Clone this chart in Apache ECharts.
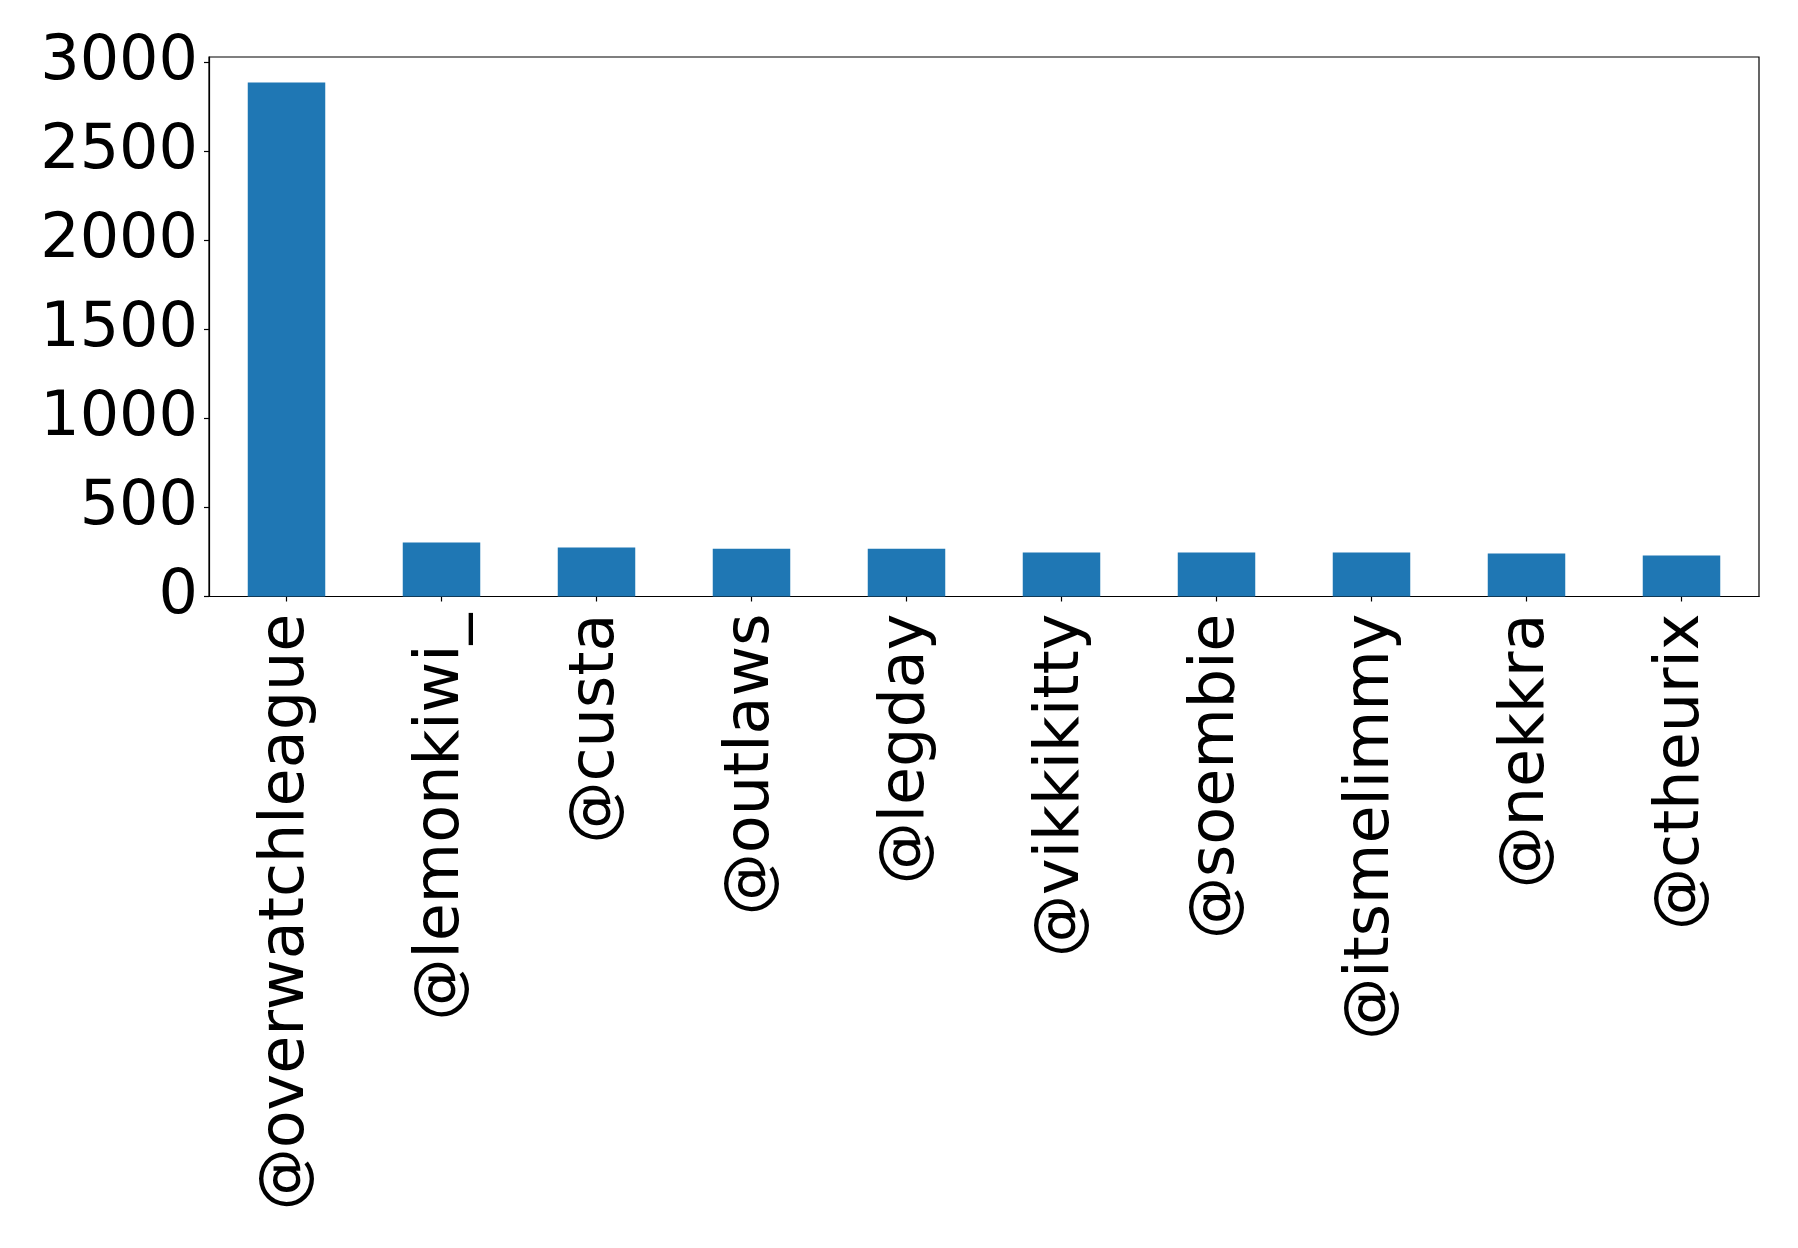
<!DOCTYPE html>
<html>
<head>
<meta charset="utf-8">
<script src="https://cdn.jsdelivr.net/npm/echarts@6/dist/echarts.min.js"></script>
<style>
html,body{margin:0;padding:0;background:#fff;}
#c{width:1798px;height:1248px;}
</style>
</head>
<body>
<div id="c"></div>
<script>
const categories = ['@overwatchleague','@lemonkiwi_','@custa','@outlaws','@legday','@vikkikitty','@soembie','@itsmelimmy','@nekkra','@ctheurix'];
const values = [2888, 303, 275, 269, 269, 247, 247, 247, 241, 230];
const yTicks = [0, 500, 1000, 1500, 2000, 2500, 3000];
const yMax = 3032;

const chart = echarts.init(document.getElementById('c'), null, {renderer: 'canvas'});
const font = 'DejaVu Sans';
chart.setOption({
  animation: false,
  backgroundColor: '#ffffff',
  grid: {
    left: 209, right: 39, top: 57, height: 539.5,
    show: true, borderColor: '#000', borderWidth: 1.2, backgroundColor: 'transparent'
  },
  xAxis: {
    type: 'category',
    data: categories,
    axisLine: {show: true, lineStyle: {color: '#000', width: 1.2}},
    axisTick: {show: true, alignWithLabel: true, length: 5, lineStyle: {color: '#000', width: 1.2}},
    axisLabel: {rotate: 90, interval: 0, margin: 17, color: '#000', fontSize: 62, fontFamily: font},
    splitLine: {show: false}
  },
  yAxis: {
    type: 'value',
    min: 0, max: yMax, interval: 500,
    axisLine: {show: true, lineStyle: {color: '#000', width: 1.2}},
    axisTick: {show: true, length: 5, customValues: yTicks, lineStyle: {color: '#000', width: 1.2}},
    axisLabel: {
      customValues: yTicks, margin: 11, color: '#000', fontSize: 62, fontFamily: font,
      formatter: v => String(v)
    },
    splitLine: {show: false}
  },
  series: [{
    type: 'bar',
    data: values,
    barWidth: '50%',
    itemStyle: {color: '#1f77b4'}
  }]
});
</script>
</body>
</html>
